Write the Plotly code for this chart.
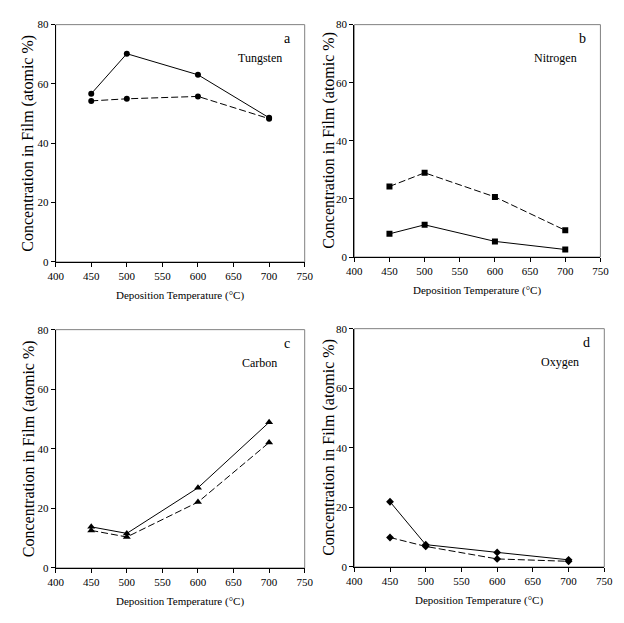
import plotly.graph_objects as go

temps = [450, 500, 600, 700]

tungsten_solid = [56.7, 70.2, 63.1, 48.6]
tungsten_dash = [54.3, 55.0, 55.8, 48.3]
nitrogen_solid = [8.0, 11.1, 5.4, 2.6]
nitrogen_dash = [24.3, 29.0, 20.7, 9.2]
carbon_solid = [13.8, 11.6, 26.9, 48.9]
carbon_dash = [12.6, 10.4, 22.1, 42.1]
oxygen_solid = [21.9, 7.5, 4.9, 2.4]
oxygen_dash = [9.9, 6.9, 2.7, 1.9]

x_ticks = [400, 450, 500, 550, 600, 650, 700, 750]
y_ticks = [0, 20, 40, 60, 80]

panel_letters = ["a", "b", "c", "d"]
element_names = ["Tungsten", "Nitrogen", "Carbon", "Oxygen"]
x_title = "Deposition Temperature (°C)"
y_title = "Concentration in Film (atomic %)"

W, H = 624, 623
FONT = "Liberation Serif, Times New Roman, serif"

# pixel boxes (left, right, top, bottom)
boxes = [(49, 305, 19, 261), (356, 609, 19, 256), (49, 305, 330, 573), (356, 613, 329, 572)]
ytitle_x = [21, 330, 21, 330]
symbols = ["circle", "square", "triangle-up", "diamond"]
series = [(tungsten_solid, tungsten_dash), (nitrogen_solid, nitrogen_dash),
          (carbon_solid, carbon_dash), (oxygen_solid, oxygen_dash)]

fig = go.Figure()
annotations = []
shapes = []
layout = {}
for i, (box, sym, (s, d)) in enumerate(zip(boxes, symbols, series)):
    n = "" if i == 0 else str(i + 1)
    xa, ya = "x" + n, "y" + n
    l, r, t, b = box
    msize = 6 if sym != "triangle-up" else 7
    fig.add_trace(go.Scatter(x=temps, y=d, xaxis=xa, yaxis=ya, mode="lines+markers",
                             line=dict(color="black", width=1, dash="7px,3px"),
                             marker=dict(symbol=sym, size=msize, color="black"), showlegend=False))
    fig.add_trace(go.Scatter(x=temps, y=s, xaxis=xa, yaxis=ya, mode="lines+markers",
                             line=dict(color="black", width=1),
                             marker=dict(symbol=sym, size=msize, color="black"), showlegend=False))
    layout["xaxis" + n] = dict(domain=[l / W, r / W], anchor=ya, range=[400, 750],
                               tickvals=x_ticks, ticks="outside", ticklen=4, tickcolor="black",
                               showline=True, linecolor="black", linewidth=1, showgrid=False,
                               zeroline=False, tickfont=dict(family=FONT, size=11, color="black"))
    layout["yaxis" + n] = dict(domain=[1 - b / H, 1 - t / H], anchor=xa, range=[0, 80],
                               tickvals=y_ticks, ticks="outside", ticklen=4, tickcolor="black",
                               showline=True, linecolor="black", linewidth=1, showgrid=False,
                               zeroline=False, tickfont=dict(family=FONT, size=11, color="black"))
    shapes.append(dict(type="rect", xref=xa + " domain", yref=ya + " domain", x0=0, x1=1, y0=0, y1=1,
                       line=dict(color="#808080", width=1), layer="below"))
    common = dict(showarrow=False, xanchor="center", yanchor="middle")
    annotations.append(dict(text=panel_letters[i], x=1 - 18 / (r - l), y=1 - 14 / (b - t),
                            xref=xa + " domain", yref=ya + " domain",
                            font=dict(family=FONT, size=14, color="black"), **common))
    annotations.append(dict(text=element_names[i], x=1 - 46 / (r - l), y=1 - 34 / (b - t),
                            xref=xa + " domain", yref=ya + " domain",
                            font=dict(family=FONT, size=12, color="black"), **common))
    annotations.append(dict(text=x_title, x=(l + r) / 2 / W, y=1 - (b + 34) / H,
                            xref="paper", yref="paper",
                            font=dict(family=FONT, size=11, color="black"), **common))
    annotations.append(dict(text=y_title, x=ytitle_x[i] / W, y=1 - (t + b) / 2 / H, textangle=-90,
                            xref="paper", yref="paper",
                            font=dict(family=FONT, size=16, color="black"), **common))

fig.update_layout(width=W, height=H, margin=dict(l=0, r=0, t=0, b=0),
                  plot_bgcolor="white", paper_bgcolor="white", hovermode=False,
                  annotations=annotations, shapes=shapes, **layout)
fig.write_html("out.html", config={"displayModeBar": False, "staticPlot": True},
               post_script="document.body.style.margin='0';document.body.style.overflow='hidden';")
